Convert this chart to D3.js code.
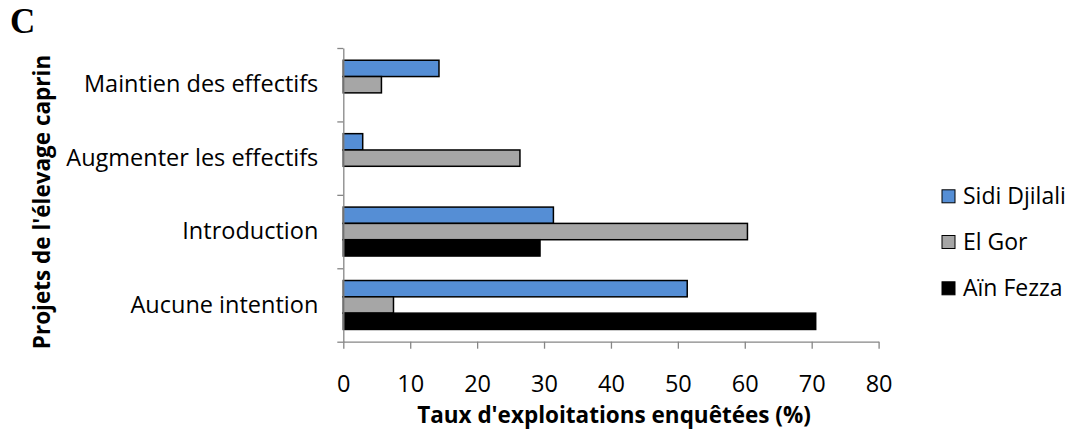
<!DOCTYPE html>
<html>
<head>
<meta charset="utf-8">
<script src="https://cdn.jsdelivr.net/npm/d3@7"></script>
<style>
  body { margin: 0; background: #fff; }
  svg { display: block; }
  .axis path, .axis line { stroke: #868686; stroke-width: 1.3; }
  .axis text { font-family: "Open Sans", sans-serif; font-size: 23.5px; fill: #000; }
  .title { font-family: "Open Sans", sans-serif; font-size: 22.5px; font-weight: bold; }
</style>
</head>
<body>
<svg id="chart" width="1073" height="432"></svg>
<script>
// categories, top to bottom
var categories = ["Maintien des effectifs", "Augmenter les effectifs", "Introduction", "Aucune intention"];
var seriesNames = ["Sidi Djilali", "El Gor", "Aïn Fezza"];
var seriesColors = ["#558ed5", "#a6a6a6", "#000000"];
// values per series, same order as categories (%)
var sidiDjilali = [14.3, 2.9, 31.4, 51.4];
var elGor = [5.7, 26.4, 60.4, 7.5];
var ainFezza = [0, 0, 29.4, 70.6];
var xTicks = [0, 10, 20, 30, 40, 50, 60, 70, 80];

var seriesValues = [sidiDjilali, elGor, ainFezza];

var svg = d3.select("#chart");

var x = d3.scaleLinear().domain([0, 80]).range([343.3, 878.6]);
var y = d3.scaleBand().domain(categories).range([48, 341.7]).paddingInner(0);
var ySub = d3.scaleBand().domain(seriesNames).range([0, y.bandwidth()]).paddingInner(0).paddingOuter(0.75);

// bars
categories.forEach(function(cat, ci) {
	seriesNames.forEach(function(s, si) {
		var v = seriesValues[si][ci];
		if (v <= 0) return;
		svg.append("rect")
			.attr("x", x(0))
			.attr("y", y(cat) + ySub(s))
			.attr("width", x(v) - x(0))
			.attr("height", ySub.bandwidth())
			.attr("fill", seriesColors[si])
			.attr("stroke", "#000")
			.attr("stroke-width", 1.5);
	});
});

// x axis
svg.append("g")
	.attr("class", "axis")
	.attr("transform", "translate(0," + 341.7 + ")")
	.call(d3.axisBottom(x).tickValues(xTicks).tickSize(7).tickSizeOuter(0).tickPadding(27))
	.selectAll("text").attr("dy", "0.71em");

// y axis: ticks at band edges, labels at band centres
var yEdges = d3.scaleLinear().domain([0, categories.length]).range([48, 341.7]);
svg.append("g")
	.attr("class", "axis")
	.attr("transform", "translate(" + 343.3 + ",0)")
	.call(d3.axisLeft(yEdges).ticks(categories.length).tickFormat("").tickSize(6).tickSizeOuter(0));

svg.append("g")
	.attr("class", "axis")
	.attr("transform", "translate(" + 343.3 + ",0)")
	.call(d3.axisLeft(y).tickSize(0).tickPadding(25))
	.call(function(g) { g.select(".domain").remove(); });

// axis titles
svg.append("text")
	.attr("class", "title")
	.attr("x", 614)
	.attr("y", 423)
	.attr("text-anchor", "middle")
	.text("Taux d'exploitations enquêtées (%)");

svg.append("text")
	.attr("class", "title")
	.attr("transform", "translate(50,202) rotate(-90)")
	.attr("text-anchor", "middle")
	.text("Projets de l'élevage caprin");

// panel letter
svg.append("text")
	.attr("x", 10)
	.attr("y", 33)
	.attr("font-family", "Liberation Serif, serif")
	.attr("font-weight", "bold")
	.attr("font-size", 35)
	.text("C");

// legend
var legendY = [196.3, 242, 288.3];
seriesNames.forEach(function(s, i) {
	var g = svg.append("g").attr("transform", "translate(942," + legendY[i] + ")");
	g.append("rect")
		.attr("x", 0).attr("y", -6.5)
		.attr("width", 13).attr("height", 13)
		.attr("fill", seriesColors[i])
		.attr("stroke", "#000").attr("stroke-width", 1);
	g.append("text")
		.attr("x", 21).attr("y", 0)
		.attr("dy", "0.35em")
		.attr("font-family", "Open Sans, sans-serif")
		.attr("font-size", 23)
		.text(s);
});
</script>
</body>
</html>
